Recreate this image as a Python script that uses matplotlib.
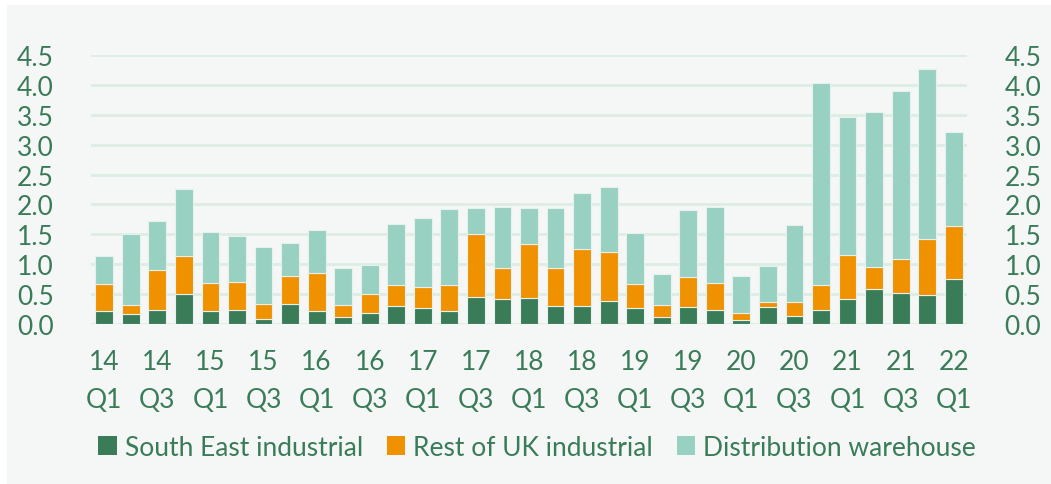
import matplotlib
matplotlib.use("Agg")
import matplotlib.pyplot as plt
from matplotlib.patches import Rectangle
import numpy as np

# quarterly labels, every bar from 14 Q1 to 22 Q1
quarters = [f"{y} Q{q}" for y in range(14, 23) for q in range(1, 5)][:33]

# cumulative stack tops
se_top = [0.21, 0.17, 0.24, 0.50, 0.21, 0.24, 0.08, 0.33, 0.21, 0.11, 0.18, 0.30,
          0.27, 0.21, 0.45, 0.41, 0.43, 0.30, 0.30, 0.38, 0.27, 0.11, 0.28, 0.23,
          0.07, 0.29, 0.13, 0.24, 0.41, 0.59, 0.52, 0.48, 0.76]
uk_top = [0.67, 0.32, 0.91, 1.14, 0.69, 0.71, 0.33, 0.80, 0.85, 0.32, 0.50, 0.66,
          0.62, 0.66, 1.50, 0.94, 1.33, 0.94, 1.26, 1.21, 0.67, 0.32, 0.78, 0.69,
          0.18, 0.37, 0.36, 0.65, 1.16, 0.95, 1.09, 1.43, 1.64]
dw_top = [1.13, 1.50, 1.73, 2.26, 1.54, 1.48, 1.28, 1.35, 1.58, 0.93, 0.99, 1.67,
          1.77, 1.92, 1.94, 1.95, 1.94, 1.94, 2.19, 2.29, 1.52, 0.84, 1.91, 1.95,
          0.81, 0.97, 1.66, 4.03, 3.46, 3.55, 3.89, 4.26, 3.22]

south_east = np.array(se_top)
rest_uk = np.array(uk_top) - south_east
distribution = np.array(dw_top) - np.array(uk_top)

GREEN = "#3a7b58"
ORANGE = "#f09100"
TEAL = "#98d0c2"
BG = "#f5f7f7"
GRID = "#dcede3"

plt.rcParams["font.family"] = ["Lato", "DejaVu Sans"]

fig = plt.figure(figsize=(10.51, 4.85), dpi=100)
fig.patch.set_facecolor("white")
fig.patches.append(Rectangle((7 / 1051, 0), 1, 1 - 6 / 485, transform=fig.transFigure,
                             facecolor=BG, edgecolor="none", zorder=-10))

ax = fig.add_axes([91 / 1051, 1 - 325 / 485, 876 / 1051, 269 / 485])
ax.set_facecolor(BG)

x = np.arange(len(quarters))
w = 0.67
kw = dict(width=w, edgecolor="#e6f0ec", linewidth=0.8, zorder=3)
ax.bar(x, south_east, color=GREEN, label="South East industrial", **kw)
ax.bar(x, rest_uk, bottom=south_east, color=ORANGE, label="Rest of UK industrial", **kw)
ax.bar(x, distribution, bottom=south_east + rest_uk, color=TEAL,
       label="Distribution warehouse", **kw)

ax.set_xlim(-0.5, len(quarters) - 0.5)
ax.set_ylim(0, 4.5)
yt = np.arange(0, 4.51, 0.5)
ax.set_yticks(yt)
ax.set_yticklabels([f"{v:.1f}" for v in yt])
ax.grid(axis="y", color=GRID, linewidth=2, zorder=0)
ax.set_axisbelow(True)
for s in ax.spines.values():
    s.set_visible(False)

xt = x[::2]
ax.set_xticks(xt)
ax.set_xticklabels([quarters[i].replace(" ", "\n") for i in xt], linespacing=1.65)
ax.tick_params(axis="both", length=0, colors=GREEN, labelsize=19)
ax.tick_params(axis="y", pad=27, labelright=True)
ax.tick_params(axis="x", pad=18)

leg = fig.legend(loc="center", bbox_to_anchor=(537 / 1051, 1 - 448 / 485), ncol=3,
                 frameon=False, fontsize=19, handlelength=0.7, handleheight=0.7,
                 handletextpad=0.3, columnspacing=0.9, labelcolor=GREEN)
for h in leg.legend_handles:
    h.set_edgecolor("none")

fig.savefig("out.png", dpi=100, facecolor=fig.get_facecolor())
